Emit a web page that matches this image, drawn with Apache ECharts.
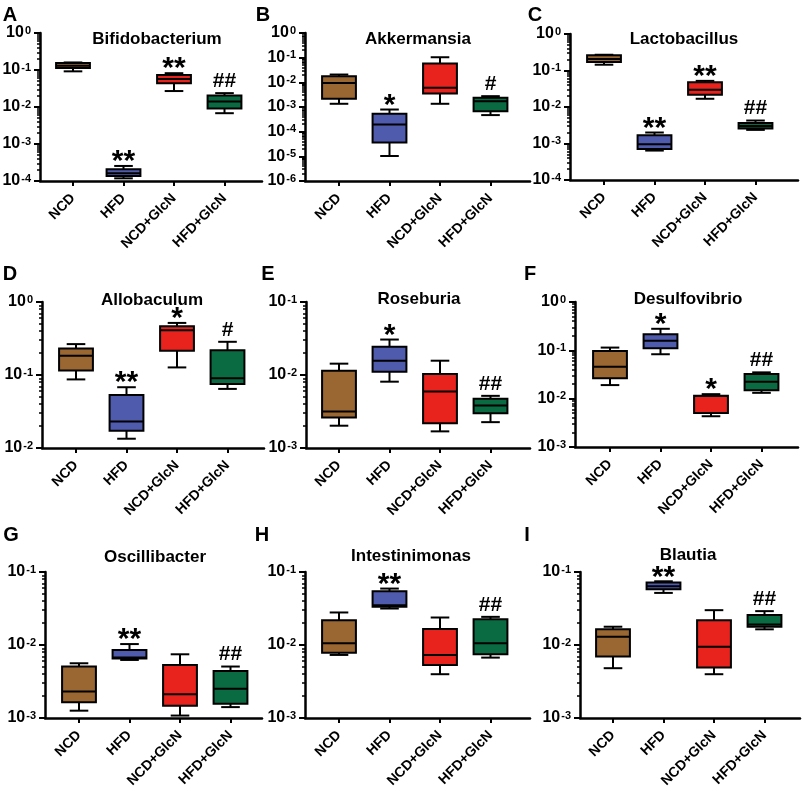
<!DOCTYPE html>
<html>
<head>
<meta charset="utf-8">
<script src="https://cdn.jsdelivr.net/npm/echarts@6/dist/echarts.min.js"></script>
<style>html,body{margin:0;padding:0;background:#fff}#c{width:803px;height:791px}</style>
</head>
<body>
<div id="c"></div>
<script>
// ---------- data ----------
const categories = ['NCD', 'HFD', 'NCD+GlcN', 'HFD+GlcN'];
const panelLetters = ['A', 'B', 'C', 'D', 'E', 'F', 'G', 'H', 'I'];
const taxa = ['Bifidobacterium', 'Akkermansia', 'Lactobacillus', 'Allobaculum', 'Roseburia',
              'Desulfovibrio', 'Oscillibacter', 'Intestinimonas', 'Blautia'];
// y-axis ranges as decade exponents (tick labels 10^n)
const yExpMin = [-4, -6, -4, -2, -3, -3, -3, -3, -3];
const yExpMax = [0, 0, 0, 0, -1, 0, -1, -1, -1];
// box values per group: [min, Q1, median, Q3, max]
const bifidobacterium = [[0.092, 0.113, 0.130, 0.154, 0.160], [1.18e-4, 1.37e-4, 1.61e-4, 2.07e-4, 2.55e-4],
  [0.027, 0.044, 0.057, 0.073, 0.082], [0.0068, 0.0091, 0.0141, 0.0205, 0.0237]];
const akkermansia = [[0.00135, 0.00215, 0.0095, 0.0177, 0.0207], [1.03e-5, 3.6e-5, 1.97e-4, 5.3e-4, 7.9e-4],
  [0.00135, 0.0035, 0.006, 0.0575, 0.104], [4.7e-4, 6.8e-4, 0.00173, 0.00236, 0.00275]];
const lactobacillus = [[0.144, 0.17, 0.206, 0.26, 0.27], [6.4e-4, 7.1e-4, 9.5e-4, 0.00169, 0.002],
  [0.0168, 0.0216, 0.0296, 0.048, 0.052], [0.00236, 0.00257, 0.00304, 0.00367, 0.00426]];
const allobaculum = [[0.087, 0.115, 0.184, 0.231, 0.265], [0.0134, 0.0172, 0.0231, 0.0534, 0.068],
  [0.127, 0.215, 0.411, 0.466, 0.517], [0.0645, 0.0754, 0.090, 0.219, 0.285]];
const roseburia = [[0.00202, 0.00262, 0.00316, 0.01146, 0.0143], [0.0081, 0.0111, 0.0157, 0.0243, 0.0306],
  [0.00169, 0.00219, 0.00593, 0.0103, 0.0157], [0.00226, 0.0030, 0.00382, 0.00471, 0.00518]];
const desulfovibrio = [[0.0191, 0.0263, 0.046, 0.097, 0.114], [0.083, 0.111, 0.157, 0.216, 0.279],
  [0.00433, 0.00508, 0.0113, 0.0115, 0.0124], [0.0132, 0.015, 0.0224, 0.0324, 0.035]];
const oscillibacter = [[0.00126, 0.00164, 0.00231, 0.00507, 0.00562], [0.00624, 0.00651, 0.00672, 0.00855, 0.0103],
  [0.00108, 0.00147, 0.00212, 0.00534, 0.00746], [0.00141, 0.00157, 0.00251, 0.00442, 0.00507]];
const intestinimonas = [[0.00731, 0.00786, 0.01054, 0.0219, 0.0279], [0.0316, 0.0333, 0.0351, 0.0545, 0.0593],
  [0.00398, 0.00534, 0.0073, 0.0165, 0.0238], [0.00672, 0.00746, 0.01054, 0.0226, 0.0243]];
const blautia = [[0.00481, 0.00694, 0.013, 0.0164, 0.0178], [0.0517, 0.058, 0.0638, 0.0716, 0.0746],
  [0.00398, 0.00491, 0.00949, 0.0219, 0.030], [0.0164, 0.0178, 0.0191, 0.0257, 0.0291]];
// significance marks per group
const marksA = ['', '**', '**', '##'];
const marksB = ['', '*', '', '#'];
const marksC = ['', '**', '**', '##'];
const marksD = ['', '**', '*', '#'];
const marksE = ['', '*', '', '##'];
const marksF = ['', '*', '*', '##'];
const marksG = ['', '**', '', '##'];
const marksH = ['', '**', '', '##'];
const marksI = ['', '**', '', '##'];

const panelData = [bifidobacterium, akkermansia, lactobacillus, allobaculum, roseburia,
                   desulfovibrio, oscillibacter, intestinimonas, blautia];
const panelMarks = [marksA, marksB, marksC, marksD, marksE, marksF, marksG, marksH, marksI];

// ---------- layout / style ----------
const FONT = 'Liberation Sans, Arial, sans-serif';
const groupColors = ['#9A6631', '#4F5BAD', '#E8221C', '#0A6B43'];
// [yAxisX, firstCategoryX, xAxisEnd, plotTop, plotBottom]
const layout = [
  [40, 73, 262, 33, 181], [305, 339, 530, 33, 181], [570, 604, 798, 34, 180],
  [42, 76, 264, 302, 448], [306, 339, 530, 302, 448], [575, 610, 798, 302, 447],
  [45, 79, 262, 572, 718], [305, 339, 530, 572, 718], [580, 613, 800, 572, 718]
];
const letterPos = [[10, 15], [263, 15], [535, 15], [10, 274], [268, 274], [530, 274], [11, 535], [262, 535], [527, 535]];
const titlePos = [[157, 39], [418, 39], [684, 39], [152, 300], [419, 299], [688, 299], [155, 557], [411, 556], [688, 555]];
const BAND = 50.5;

const grids = [], xAxes = [], yAxes = [], series = [], graphics = [];

function supLabel(v) {
  const e = Math.round(Math.log10(v));
  return '{b|10}{s|' + e + '}';
}
const richLbl = {
  b: { fontSize: 16, fontWeight: 'bold', fontFamily: FONT, color: '#000', lineHeight: 16, verticalAlign: 'bottom' },
  s: { fontSize: 11, fontWeight: 'bold', fontFamily: FONT, color: '#000', lineHeight: 11, verticalAlign: 'top', padding: [0, 0, 9, 1] }
};

function makeRender(p) {
  const marks = panelMarks[p];
  return function (params, api) {
    const idx = api.value(0);
    const v = [1, 2, 3, 4, 5].map(d => api.value(d));
    const pts = v.map(val => api.coord([idx, val]));
    const cx = pts[0][0];
    const band = api.size([1, 0])[0];
    const bw = band * 0.67;
    const cap = bw * 0.55;
    const yMin = pts[0][1], yQ1 = pts[1][1], yMed = pts[2][1], yQ3 = pts[3][1], yMax = pts[4][1];
    const ls = { stroke: '#000', lineWidth: 2 };
    const ch = [
      { type: 'line', shape: { x1: cx, y1: yMax, x2: cx, y2: yQ3 }, style: ls },
      { type: 'line', shape: { x1: cx, y1: yQ1, x2: cx, y2: yMin }, style: ls },
      { type: 'line', shape: { x1: cx - cap / 2, y1: yMax, x2: cx + cap / 2, y2: yMax }, style: ls },
      { type: 'line', shape: { x1: cx - cap / 2, y1: yMin, x2: cx + cap / 2, y2: yMin }, style: ls },
      { type: 'rect', shape: { x: cx - bw / 2, y: yQ3, width: bw, height: yQ1 - yQ3 },
        style: { fill: groupColors[idx], stroke: '#000', lineWidth: 2 } },
      { type: 'line', shape: { x1: cx - bw / 2, y1: yMed, x2: cx + bw / 2, y2: yMed }, style: ls }
    ];
    const m = marks[idx];
    if (m) {
      const isStar = m.indexOf('*') >= 0;
      const fs = isStar ? 30 : 21;
      const dy = isStar ? -4 : -12;
      ch.push({ type: 'text', x: cx, y: yMax + dy,
        style: { text: m, font: 'bold ' + fs + 'px ' + FONT, fill: '#000',
                 align: 'center', verticalAlign: 'middle', textAlign: 'center', textVerticalAlign: 'middle' } });
    }
    return { type: 'group', children: ch };
  };
}

for (let p = 0; p < 9; p++) {
  const [axX, tick0, xEnd, top, bottom] = layout[p];
  const gLeft = tick0 - BAND / 2;
  const gi = grids.length;
  grids.push({ left: gLeft, top: top, width: BAND * 4, height: bottom - top, containLabel: false, outerBoundsMode: 'none' });
  grids.push({ left: axX, top: top, width: xEnd - axX, height: bottom - top, containLabel: false, outerBoundsMode: 'none' });
  const ymin = Math.pow(10, yExpMin[p]), ymax = Math.pow(10, yExpMax[p]);
  const majors = [], minors = [];
  for (let e = yExpMin[p]; e <= yExpMax[p]; e++) majors.push(Math.pow(10, e));
  for (let e = yExpMin[p]; e < yExpMax[p]; e++) for (let k = 2; k <= 9; k++) minors.push(k * Math.pow(10, e));

  const xi = xAxes.length;
  xAxes.push({
    type: 'category', gridIndex: gi, data: categories, boundaryGap: true, position: 'bottom',
    axisLine: { show: false },
    axisTick: { show: true, alignWithLabel: true, length: 5, lineStyle: { color: '#000', width: 2 } },
    axisLabel: { interval: 0, rotate: 45, margin: 15, color: '#000', fontSize: 14, fontWeight: 'bold', fontFamily: FONT },
    splitLine: { show: false }
  });
  xAxes.push({
    type: 'value', gridIndex: gi + 1, min: 0, max: 1, position: 'bottom',
    axisLine: { show: true, lineStyle: { color: '#000', width: 2.5 } },
    axisTick: { show: false }, axisLabel: { show: false }, splitLine: { show: false }
  });
  const yi = yAxes.length;
  yAxes.push({
    type: 'log', logBase: 10, gridIndex: gi, min: ymin, max: ymax, offset: gLeft - axX, position: 'left',
    axisLine: { show: true, lineStyle: { color: '#000', width: 2.5 } },
    axisTick: { show: true, length: 6, customValues: majors, lineStyle: { color: '#000', width: 2 } },
    axisLabel: { show: true, customValues: majors, margin: 9, formatter: supLabel, rich: richLbl },
    splitLine: { show: false }, minorTick: { show: false }, minorSplitLine: { show: false }
  });
  yAxes.push({
    type: 'log', logBase: 10, gridIndex: gi, min: ymin, max: ymax, offset: gLeft - axX, position: 'left',
    axisLine: { show: false },
    axisTick: { show: true, length: 3, customValues: minors, lineStyle: { color: '#000', width: 1.5 } },
    axisLabel: { show: false }, splitLine: { show: false }
  });
  yAxes.push({ type: 'value', gridIndex: gi + 1, min: 0, max: 1, show: false, position: 'left' });

  series.push({
    type: 'custom', xAxisIndex: xi, yAxisIndex: yi,
    renderItem: makeRender(p),
    encode: { x: 0, y: [1, 2, 3, 4, 5] },
    data: panelData[p].map((d, i) => [i].concat(d)),
    clip: false, silent: true
  });

  graphics.push({ type: 'text', x: letterPos[p][0], y: letterPos[p][1],
    style: { text: panelLetters[p], font: 'bold 20px ' + FONT, fill: '#000', align: 'center', verticalAlign: 'middle',
             textAlign: 'center', textVerticalAlign: 'middle' } });
  graphics.push({ type: 'text', x: titlePos[p][0], y: titlePos[p][1],
    style: { text: taxa[p], font: 'bold 17px ' + FONT, fill: '#000', align: 'center', verticalAlign: 'middle',
             textAlign: 'center', textVerticalAlign: 'middle' } });
}

const chart = echarts.init(document.getElementById('c'), null, { renderer: 'canvas' });
chart.setOption({
  backgroundColor: '#fff',
  animation: false,
  grid: grids, xAxis: xAxes, yAxis: yAxes, series: series,
  graphic: { elements: graphics }
});
</script>
</body>
</html>
